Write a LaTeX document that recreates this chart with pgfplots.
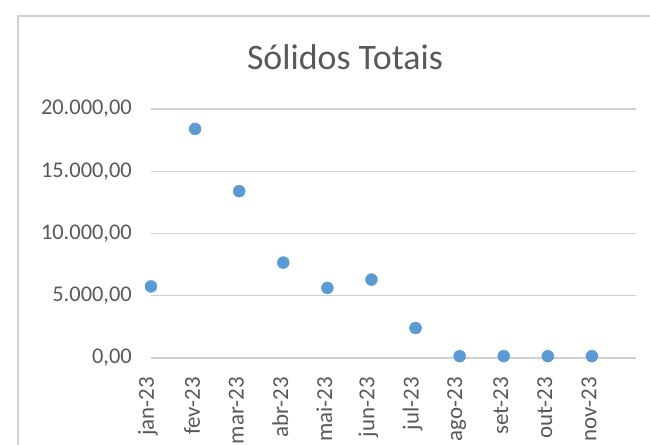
\documentclass[border=0pt]{standalone}
\usepackage{pgfplots}
\pgfplotsset{compat=1.18}
\usepackage{fontspec}
\setmainfont{Carlito}
\definecolor{txt}{HTML}{595959}
\definecolor{grd}{HTML}{D0D0D0}
\definecolor{pt}{HTML}{5B9BD5}
\begin{document}
\begin{tikzpicture}
\path[use as bounding box] (0,0) rectangle (650bp,445bp);
\draw[grd, line width=1.2bp] (18bp,0) -- (18bp,429bp) -- (650bp,429bp);
\node[txt, anchor=base, inner sep=0, font=\fontsize{36}{40}\selectfont] at (345bp,375bp) {Sólidos Totais};
\begin{axis}[
  at={(151bp,87bp)}, anchor=south west,
  scale only axis, width=485bp, height=249bp,
  xmin=0, xmax=11, ymin=0, ymax=20000,
  clip=false,
  axis line style={draw=none},
  major tick style={draw=none},
  ymajorgrids, grid style={grd, line width=1.4bp},
  scaled y ticks=false,
  ytick={0,5000,10000,15000,20000},
  xtick={0,1,2,3,4,5,6,7,8,9,10},
  xticklabels={jan-23,fev-23,mar-23,abr-23,mai-23,jun-23,jul-23,ago-23,set-23,out-23,nov-23},
  /pgf/number format/.cd, fixed, fixed zerofill, precision=2, 1000 sep={.}, use comma, assume math mode=true,
  /pgfplots/.cd,
  yticklabel style={txt, font=\fontsize{22.5}{26}\selectfont, anchor=east, inner sep=0, xshift=-19bp},
  xticklabel style={txt, font=\fontsize{23}{26}\selectfont, rotate=90, anchor=east, inner sep=0, xshift=-19bp, yshift=3bp},
]
\addplot[only marks, mark=*, mark size=6bp, mark options={draw=pt, fill=pt}] coordinates {
(0,5750) (1,18400) (2,13400) (3,7660) (4,5630) (5,6300) (6,2410) (7,150) (8,150) (9,150) (10,150)
};
\end{axis}
\end{tikzpicture}
\end{document}
